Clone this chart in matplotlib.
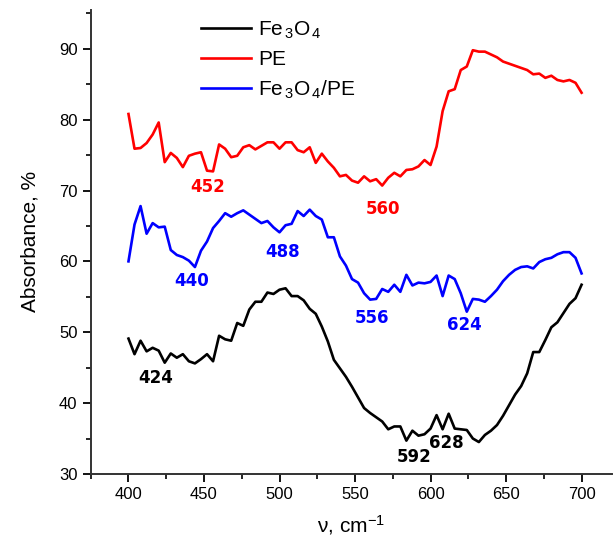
import numpy as np
import matplotlib
matplotlib.use("Agg")
import matplotlib.pyplot as plt
from matplotlib.ticker import MultipleLocator

plt.rcParams["font.family"] = ["Liberation Sans", "DejaVu Sans"]
plt.rcParams["mathtext.fontset"] = "custom"
plt.rcParams["mathtext.rm"] = "Liberation Sans"
plt.rcParams["mathtext.it"] = "Liberation Sans"

# wavenumber grid, cm^-1 (4 cm^-1 step)
wavenumber = np.arange(400, 701, 4)

fe3o4 = [49.1, 46.9, 48.8, 47.3, 47.8, 47.4, 45.7, 47.0, 46.4, 46.9,
         45.9, 45.6, 46.2, 46.9, 45.9, 49.5, 49.0, 48.8, 51.3, 50.9,
         53.2, 54.3, 54.3, 55.6, 55.4, 56.0, 56.2, 55.1, 55.1, 54.5,
         53.3, 52.6, 50.8, 48.7, 46.1, 44.9, 43.7, 42.3, 40.8, 39.3,
         38.6, 38.0, 37.4, 36.3, 36.7, 36.7, 34.7, 36.1, 35.4, 35.6,
         36.4, 38.3, 36.3, 38.5, 36.4, 36.3, 36.2, 35.0, 34.5, 35.5,
         36.1, 36.9, 38.2, 39.7, 41.2, 42.4, 44.2, 47.2, 47.2, 48.9,
         50.7, 51.4, 52.7, 54.0, 54.8, 56.7]

pe = [80.8, 75.9, 76.0, 76.7, 77.9, 79.6, 74.0, 75.3, 74.6, 73.3,
      74.9, 75.2, 75.4, 72.8, 72.7, 76.5, 75.9, 74.7, 74.9, 76.1,
      76.4, 75.8, 76.3, 76.8, 76.8, 75.9, 76.8, 76.8, 75.7, 75.4,
      76.1, 73.9, 75.2, 74.1, 73.2, 72.0, 72.2, 71.4, 71.1, 72.0,
      71.3, 71.6, 70.7, 71.8, 72.5, 72.0, 72.9, 73.0, 73.4, 74.3,
      73.6, 76.2, 81.2, 84.0, 84.3, 87.0, 87.5, 89.8, 89.6, 89.6,
      89.2, 88.8, 88.2, 87.9, 87.6, 87.3, 87.0, 86.4, 86.5, 85.9,
      86.2, 85.6, 85.4, 85.6, 85.2, 83.8]

fe3o4_pe = [60.0, 65.2, 67.8, 63.9, 65.4, 64.8, 64.9, 61.6, 60.9, 60.6,
            60.1, 59.2, 61.5, 62.8, 64.7, 65.7, 66.8, 66.3, 66.8, 67.2,
            66.6, 66.0, 65.4, 65.7, 64.8, 64.1, 65.1, 65.3, 67.1, 66.4,
            67.3, 66.4, 65.9, 63.4, 63.4, 60.7, 59.4, 57.5, 57.0, 55.5,
            54.6, 54.7, 56.1, 55.7, 56.7, 55.7, 58.1, 56.6, 57.0, 56.9,
            57.1, 58.0, 55.1, 58.0, 57.5, 55.5, 52.9, 54.7, 54.6, 54.3,
            55.1, 56.0, 57.2, 58.1, 58.8, 59.2, 59.3, 59.0, 59.9, 60.3,
            60.5, 61.0, 61.3, 61.3, 60.5, 58.3]

# peak labels: (text, x, y, colour)
peak_labels = [
    ("452", 452.5, 70.5, "red"),
    ("560", 568.4, 67.4, "red"),
    ("440", 441.5, 57.2, "blue"),
    ("488", 501.8, 61.3, "blue"),
    ("556", 561.4, 52.0, "blue"),
    ("624", 622.5, 51.0, "blue"),
    ("424", 417.7, 43.5, "black"),
    ("592", 589.4, 32.4, "black"),
    ("628", 610.3, 34.3, "black"),
]

fig = plt.figure(figsize=(6.13, 5.46), dpi=100)
ax = fig.add_axes([0.148, 0.132, 0.850, 0.850])

ax.plot(wavenumber, fe3o4, color="black", lw=1.9, label="Fe$_{\\,3}$O$_{\\,4}$")
ax.plot(wavenumber, pe, color="red", lw=1.9, label="PE")
ax.plot(wavenumber, fe3o4_pe, color="blue", lw=1.9, label="Fe$_{\\,3}$O$_{\\,4}$/PE")

for txt, x, y, c in peak_labels:
    ax.text(x, y, txt, color=c, fontsize=12, fontweight="bold",
            ha="center", va="center",
            family=["Liberation Sans Narrow", "DejaVu Sans"])

ax.set_xlim(375, 720)
ax.set_ylim(30, 95.5)
ax.xaxis.set_major_locator(MultipleLocator(50))
ax.xaxis.set_minor_locator(MultipleLocator(25))
ax.yaxis.set_major_locator(MultipleLocator(10))
ax.yaxis.set_minor_locator(MultipleLocator(5))
ax.set_xticks(np.arange(400, 701, 50))
ax.set_yticks(np.arange(30, 91, 10))
ax.tick_params(which="major", direction="out", length=6, width=1.3, labelsize=12)
ax.tick_params(which="minor", direction="out", length=3.5, width=1.2)
for s in ("top", "right"):
    ax.spines[s].set_visible(False)
for s in ("left", "bottom"):
    ax.spines[s].set_linewidth(1.4)
    ax.spines[s].set_color("#333333")

ax.set_xlabel("ν, cm$^{-1}$", fontsize=15, labelpad=8)
ax.set_ylabel("Absorbance, %", fontsize=15, labelpad=14)

ax.legend(loc="upper left", bbox_to_anchor=(0.175, 1.02), frameon=False,
          fontsize=15, handlelength=2.4, labelspacing=0.45, handletextpad=0.35)

fig.savefig("out.png", dpi=100)
